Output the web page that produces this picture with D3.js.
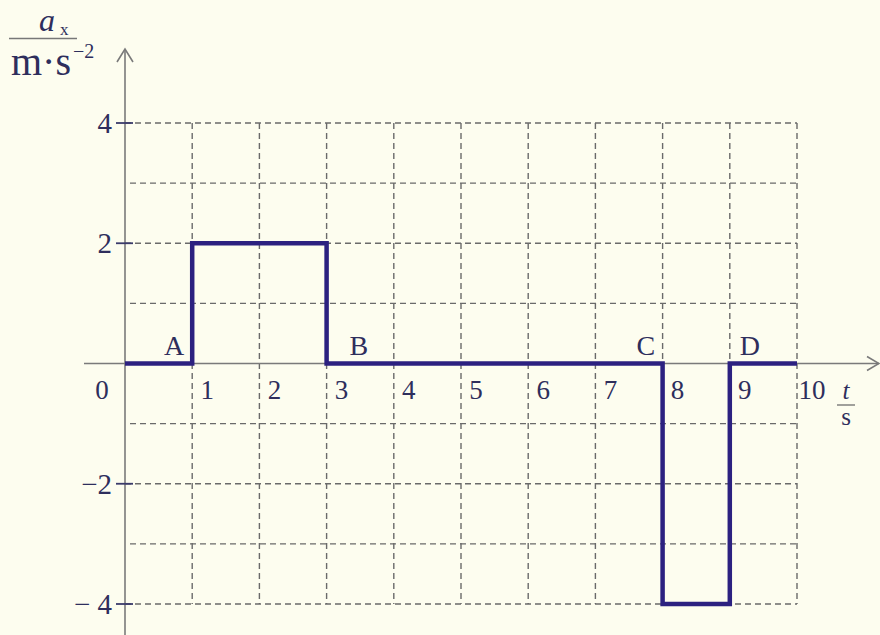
<!DOCTYPE html>
<html>
<head>
<meta charset="utf-8">
<script src="https://cdn.jsdelivr.net/npm/d3@7"></script>
<style>
  html, body { margin: 0; padding: 0; background: #fdfdef; }
  svg { display: block; }
  text { font-family: "Liberation Serif", "DejaVu Serif", serif; }
</style>
</head>
<body>
<svg id="chart" width="880" height="635"></svg>
<script>
// Acceleration a_x (m·s^-2) over time t (s)
const times = [0, 1, 1, 3, 3, 8, 8, 9, 9, 10];
const accel = [0, 0, 2, 2, 0, 0, -4, -4, 0, 0];

// Tick labels
const xTicks = [1, 2, 3, 4, 5, 6, 7, 8, 9, 10];
const yTicks = [4, 2, -2, -4];
const yTickText = ["4", "2", "−2", "− 4"];

// Grid steps
const xGrid = [1, 2, 3, 4, 5, 6, 7, 8, 9, 10];
const yGrid = [4, 3, 2, 1, -1, -2, -3, -4];

// Point labels (name, time where the label sits)
const pointNames = ["A", "B", "C", "D"];
const pointTimes = [0.73, 3.48, 7.75, 9.3];

const svg = d3.select("#chart");
const W = 880, H = 635;

svg.append("rect").attr("width", W).attr("height", H).attr("fill", "#fdfdef");

const x = d3.scaleLinear().domain([0, 10]).range([125, 797]);
const y = d3.scaleLinear().domain([-4, 4]).range([604, 123]);

const gridColor = "#6a6a6a";
const axisColor = "#7a7a7a";
const textColor = "#2e2e5c";
const lineColor = "#2c2180";

// Dashed grid
const grid = svg.append("g")
  .attr("stroke", gridColor)
  .attr("stroke-width", 1.4)
  .attr("stroke-dasharray", "6,4");

grid.selectAll("line.v").data(xGrid).enter().append("line")
  .attr("class", "v")
  .attr("x1", d => x(d)).attr("x2", d => x(d))
  .attr("y1", y(4)).attr("y2", y(-4));

grid.selectAll("line.h").data(yGrid).enter().append("line")
  .attr("class", "h")
  .attr("x1", d => (yTicks.includes(d) ? x(0) : x(0) + 5))
  .attr("x2", x(10))
  .attr("y1", d => y(d)).attr("y2", d => y(d));

// Axes
const axes = svg.append("g").attr("stroke", axisColor).attr("stroke-width", 1.6).attr("fill", "none");
axes.append("line").attr("x1", 84).attr("x2", 879).attr("y1", y(0)).attr("y2", y(0));
axes.append("line").attr("x1", x(0)).attr("x2", x(0)).attr("y1", 49).attr("y2", H);
// Arrow heads
axes.append("path").attr("d", `M${x(0) - 8},62 L${x(0)},49 L${x(0) + 8},62`);
axes.append("path").attr("d", `M867,${y(0) - 7} L879,${y(0)} L867,${y(0) + 7}`);

// Y tick marks
svg.append("g").selectAll("line").data(yTicks).enter().append("line")
  .attr("x1", x(0) - 9).attr("x2", x(0) + 8)
  .attr("y1", d => y(d)).attr("y2", d => y(d))
  .attr("stroke", "#3a3a6a").attr("stroke-width", 1.8);

// Y tick labels
svg.append("g").selectAll("text").data(yTicks).enter().append("text")
  .attr("x", 112)
  .attr("y", d => y(d) + 10)
  .attr("text-anchor", "end")
  .attr("font-size", 29)
  .attr("fill", textColor)
  .text((d, i) => yTickText[i]);

// Origin and x tick labels
svg.append("text").attr("x", 102).attr("y", y(0) + 35)
  .attr("text-anchor", "middle").attr("font-size", 27).attr("fill", textColor).text("0");

svg.append("g").selectAll("text").data(xTicks).enter().append("text")
  .attr("x", d => x(d) + 15)
  .attr("y", y(0) + 35)
  .attr("text-anchor", "middle")
  .attr("font-size", 27)
  .attr("fill", textColor)
  .text(d => d);

// Acceleration step line
const line = d3.line().x((d, i) => x(times[i])).y((d, i) => y(accel[i]));
svg.append("path")
  .datum(times)
  .attr("d", line)
  .attr("fill", "none")
  .attr("stroke", lineColor)
  .attr("stroke-width", 4.5)
  .attr("stroke-linejoin", "miter");

// Point labels
svg.append("g").selectAll("text").data(pointNames).enter().append("text")
  .attr("x", (d, i) => x(pointTimes[i]))
  .attr("y", y(0) - 9)
  .attr("text-anchor", "middle")
  .attr("font-size", 28)
  .attr("fill", textColor)
  .text(d => d);

// Y-axis title: a_x / m·s^-2
const yt = svg.append("g");
yt.append("text").attr("x", 39).attr("y", 31)
  .attr("font-size", 32).attr("font-style", "italic").attr("fill", textColor).text("a");
yt.append("text").attr("x", 60).attr("y", 35)
  .attr("font-size", 17).attr("fill", textColor).text("x");
yt.append("line").attr("x1", 9).attr("x2", 77).attr("y1", 38.5).attr("y2", 38.5)
  .attr("stroke", "#777").attr("stroke-width", 1.6);
yt.append("text").attr("x", 11).attr("y", 75)
  .attr("font-size", 40).attr("fill", textColor).text("m·s");
yt.append("text").attr("x", 73).attr("y", 58)
  .attr("font-size", 20).attr("fill", textColor).text("−2");

// X-axis title: t / s
const xt = svg.append("g");
xt.append("text").attr("x", 846).attr("y", 399)
  .attr("text-anchor", "middle").attr("font-size", 25).attr("font-style", "italic")
  .attr("fill", textColor).text("t");
xt.append("line").attr("x1", 837).attr("x2", 855).attr("y1", 405).attr("y2", 405)
  .attr("stroke", "#777").attr("stroke-width", 1.4);
xt.append("text").attr("x", 846).attr("y", 425)
  .attr("text-anchor", "middle").attr("font-size", 25)
  .attr("fill", textColor).text("s");
</script>
</body>
</html>
